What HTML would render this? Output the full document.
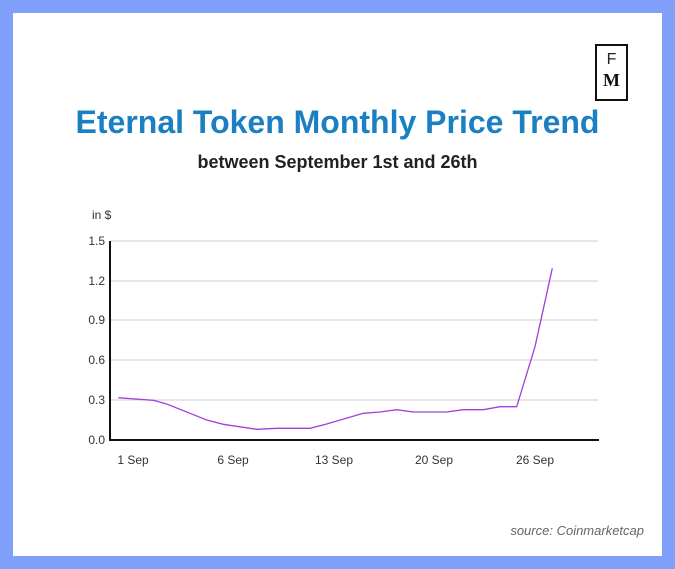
<!DOCTYPE html>
<html><head><style>
body{margin:0;width:675px;height:569px;background:#7f9ffb;position:relative;font-family:"Liberation Sans",sans-serif;overflow:hidden}
.card{position:absolute;left:13px;top:13px;width:649px;height:543px;background:#fff}
.t{position:absolute;left:0;width:675px;text-align:center}
</style></head><body>
<div class="card"></div>
<div style="position:absolute;left:595px;top:44px;width:33px;height:57px;border:2px solid #111;box-sizing:border-box;text-align:center;font-family:'Liberation Serif',serif">
<div style="font-family:'Liberation Sans',sans-serif;font-size:16px;line-height:18px;margin-top:5px;color:#222">F</div>
<div style="font-size:18px;font-weight:bold;line-height:22px;color:#111">M</div></div>
<div class="t" style="top:104px;font-size:32px;font-weight:bold;color:#1b7fc3">Eternal Token Monthly Price Trend</div>
<div class="t" style="top:152px;font-size:18px;font-weight:bold;color:#222">between September 1st and 26th</div>
<svg style="position:absolute;left:0;top:0" width="675" height="569" font-family="Liberation Sans,sans-serif" font-size="12" fill="#333">
<text x="92" y="219">in $</text>
<g stroke="#ccc" stroke-width="1">
<line x1="110" y1="241" x2="598" y2="241"/><line x1="110" y1="281" x2="598" y2="281"/><line x1="110" y1="320" x2="598" y2="320"/><line x1="110" y1="360" x2="598" y2="360"/><line x1="110" y1="400" x2="598" y2="400"/></g>
<g text-anchor="end"><text x="105" y="245">1.5</text><text x="105" y="285">1.2</text><text x="105" y="324">0.9</text><text x="105" y="364">0.6</text><text x="105" y="404">0.3</text><text x="105" y="444">0.0</text></g>
<line x1="110" y1="241" x2="110" y2="441" stroke="#111" stroke-width="2"/>
<line x1="109" y1="440" x2="599" y2="440" stroke="#111" stroke-width="2"/>
<g text-anchor="middle"><text x="133" y="464">1 Sep</text><text x="233" y="464">6 Sep</text><text x="334" y="464">13 Sep</text><text x="434" y="464">20 Sep</text><text x="535" y="464">26 Sep</text></g>
<polyline fill="none" stroke="#a040d8" stroke-width="1.3" points="118.3,397.7 153.3,400.3 166.7,404 190,413.3 206.7,420 223.3,424.3 256.7,429.3 276.7,428.3 310,428.3 326.7,424 363.3,413.3 380,412 396.7,409.7 413.3,412 446.7,412 463.3,409.7 483.3,409.7 500,406.7 516.7,406.7 535,346.7 552.3,268.3"/>
<text x="644" y="535" text-anchor="end" font-style="italic" font-size="13" fill="#666">source: Coinmarketcap</text>
</svg>
</body></html>
